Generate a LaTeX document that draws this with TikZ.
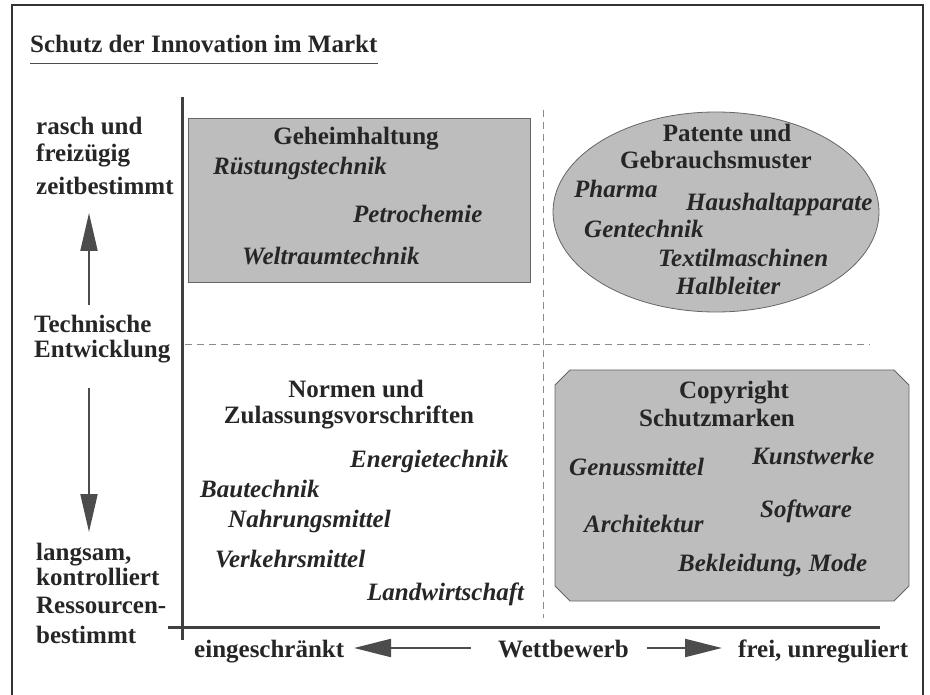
\documentclass[tikz,border=0pt]{standalone}
\usepackage{fontspec}
\setmainfont{Liberation Serif}
\usetikzlibrary{arrows.meta}
\definecolor{screen}{gray}{0.74}
\definecolor{ink}{gray}{0.15}
\tikzset{
	head/.style={font=\fontsize{25}{28}\selectfont\bfseries, text=ink, inner sep=0pt, anchor=base west},
	headc/.style={head, anchor=base},
	entry/.style={head, font=\fontsize{25}{28}\selectfont\bfseries\itshape},
	area/.style={draw=black!60, line width=0.8pt, fill=screen},
	axisline/.style={draw=black!75, line width=3pt},
	guide/.style={draw=black!45, line width=0.9pt, dash pattern=on 7pt off 5pt},
	pointer/.style={draw=black!70, line width=2pt, -{Triangle[length=38pt, width=17pt]}},
}
\begin{document}
\begin{tikzpicture}[x=1pt, y=-1pt]
		\useasboundingbox (0,0) rectangle (930,695);
		% frame and title
		\draw[draw=black!80, line width=1.2pt] (12,695) -- (12,5) -- (923,5) -- (923,695);
		\node[head] (title) at (30,53) {Schutz der Innovation im Markt};
		\draw[draw=black!70, line width=1.5pt] (title.south west) ++(0,10) -- ++(348,0);
		% shaded fields
		\draw[area] (188,118) rectangle (530,282);
		\draw[area] (716,212) ellipse [x radius=163pt, y radius=100pt];
		\draw[area] (570,370) -- (894,370) -- (909,385) -- (909,586) -- (894,601) -- (570,601) -- (555,586) -- (555,385) -- cycle;
		% quadrant guides and axes
		\draw[guide] (185,344) -- (870,344);
		\draw[guide] (543,110) -- (543,618);
		\draw[axisline] (182,97) -- (182,640);
		\draw[axisline] (168,627) -- (880,627);
		% vertical axis texts
		\node[head] (rasch) at (36,135) {rasch und};
		\node[head] (frei) at (36,162) {freizügig};
		\node[head] (zeit) at (36,195) {zeitbestimmt};
		\node[head] (tech) at (34,333) {Technische};
		\node[head] (entw) at (34,358) {Entwicklung};
		\node[head] (lang) at (36,560) {langsam,};
		\node[head] (kontr) at (36,585) {kontrolliert};
		\node[head] (ress) at (36,613) {Ressourcen-};
		\node[head] (best) at (36,643) {bestimmt};
		\coordinate (upfrom) at (89,305);
		\coordinate (upto) at (89,213);
		\coordinate (downfrom) at (89,388);
		\coordinate (downto) at (89,532);
		\draw[pointer] (upfrom) -- (upto);
		\draw[pointer] (downfrom) -- (downto);
		% horizontal axis texts
		\node[head] (eing) at (194,657) {eingeschränkt};
		\node[head] (wett) at (498,657) {Wettbewerb};
		\node[head] (unreg) at (738,657) {frei, unreguliert};
		\coordinate (leftfrom) at (471,648);
		\coordinate (leftto) at (354,648);
		\coordinate (rightfrom) at (647,648);
		\coordinate (rightto) at (722,648);
		\draw[pointer, -{Triangle[length=37pt, width=18pt]}] (leftfrom) -- (leftto);
		\draw[pointer, -{Triangle[length=37pt, width=18pt]}] (rightfrom) -- (rightto);
		% secrecy
		\node[headc] (geheim) at (356,145) {Geheimhaltung};
		\node[entry] (ruest) at (213,175) {Rüstungstechnik};
		\node[entry] (petro) at (353,223) {Petrochemie};
		\node[entry] (welt) at (242,265) {Weltraumtechnik};
		% patents
		\node[headc] (patente) at (727,142) {Patente und};
		\node[headc] (gebr) at (716,169) {Gebrauchsmuster};
		\node[entry] (pharma) at (574,198) {Pharma};
		\node[entry] (haus) at (686,211) {Haushaltapparate};
		\node[entry] (gen) at (584,238) {Gentechnik};
		\node[entry] (textil) at (658,267) {Textilmaschinen};
		\node[entry] (halb) at (676,295) {Halbleiter};
		% norms
		\node[headc] (normen) at (356,397) {Normen und};
		\node[headc] (zul) at (349,423) {Zulassungsvorschriften};
		\node[entry] (energie) at (350,467) {Energietechnik};
		\node[entry] (bau) at (200,497) {Bautechnik};
		\node[entry] (nahrung) at (228,527) {Nahrungsmittel};
		\node[entry] (verkehr) at (215,567) {Verkehrsmittel};
		\node[entry] (land) at (367,600) {Landwirtschaft};
		% copyright
		\node[headc] (copy) at (734,399) {Copyright};
		\node[headc] (marken) at (717,426) {Schutzmarken};
		\node[entry] (genuss) at (569,475) {Genussmittel};
		\node[entry] (kunst) at (752,464) {Kunstwerke};
		\node[entry] (soft) at (760,517) {Software};
		\node[entry] (archi) at (584,532) {Architektur};
		\node[entry] (bekl) at (678,571) {Bekleidung, Mode};
	\end{tikzpicture}
\end{document}
